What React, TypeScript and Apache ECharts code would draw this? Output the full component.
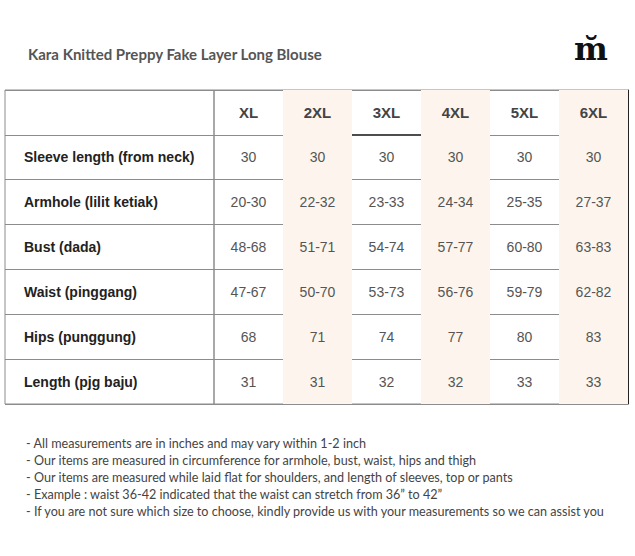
import React, { useEffect, useRef } from "react";
import * as echarts from "echarts";

const title = "Kara Knitted Preppy Fake Layer Long Blouse";
const sizes = ["XL", "2XL", "3XL", "4XL", "5XL", "6XL"];
const measurements = [
  "Sleeve length (from neck)",
  "Armhole (lilit ketiak)",
  "Bust (dada)",
  "Waist (pinggang)",
  "Hips (punggung)",
  "Length (pjg baju)",
];
const sleeve = ["30", "30", "30", "30", "30", "30"];
const armhole = ["20-30", "22-32", "23-33", "24-34", "25-35", "27-37"];
const bust = ["48-68", "51-71", "54-74", "57-77", "60-80", "63-83"];
const waist = ["47-67", "50-70", "53-73", "56-76", "59-79", "62-82"];
const hips = ["68", "71", "74", "77", "80", "83"];
const length = ["31", "31", "32", "32", "33", "33"];
const notes = [
  "- All measurements are in inches and may vary within 1-2 inch",
  "- Our items are measured in circumference for armhole, bust, waist, hips and thigh",
  "- Our items are measured while laid flat for shoulders, and length of sleeves, top or pants",
  "- Example : waist 36-42 indicated that the waist can stretch from 36\u201d to 42\u201d",
  "- If you are not sure which size to choose, kindly provide us with your measurements so we can assist you",
];

const rows = ["", ...measurements];
const valueRows = [sleeve, armhole, bust, waist, hips, length];

export default function App() {
  const ref = useRef<HTMLDivElement>(null);
  useEffect(() => {
    document.body.style.margin = "0";
    const chart = echarts.init(ref.current!, null, { renderer: "svg" });

    const cells: { c: number; r: number; t: string; header: boolean }[] = [];
    sizes.forEach((s, c) => cells.push({ c, r: 0, t: s, header: true }));
    valueRows.forEach((vals, ri) =>
      vals.forEach((v, c) => cells.push({ c, r: ri + 1, t: v, header: false }))
    );
    const labelCells = measurements.map((m, i) => ({ r: i + 1, t: m }));

    const lineColor = "#8c8c8c";
    const font = "'Liberation Sans', Arial, sans-serif";

    chart.setOption({
      animation: false,
      backgroundColor: "#ffffff",
      title: {
        text: title,
        left: 23,
        top: 41,
        textStyle: {
          fontFamily: "Lato",
          fontWeight: "bold",
          fontSize: 15,
          color: "#555555",
        },
      },
      grid: [
        {
          left: 5,
          top: 90,
          width: 209,
          height: 314,
          show: true,
          borderColor: lineColor,
          borderWidth: 1,
          backgroundColor: "transparent",
        },
        {
          left: 214,
          top: 90,
          width: 414,
          height: 314,
          show: true,
          borderColor: lineColor,
          borderWidth: 1,
          backgroundColor: "transparent",
        },
      ],
      xAxis: [
        {
          gridIndex: 0,
          type: "category",
          data: ["label"],
          axisLine: { show: false },
          axisTick: { show: false },
          axisLabel: { show: false },
        },
        {
          gridIndex: 1,
          type: "category",
          data: sizes,
          axisLine: { show: false },
          axisTick: { show: false },
          axisLabel: { show: false },
          splitArea: {
            show: true,
            interval: 0,
            areaStyle: { color: ["rgba(255,255,255,0)", "#fdf5ed"] },
          },
        },
      ],
      yAxis: [
        {
          gridIndex: 0,
          type: "category",
          data: rows,
          inverse: true,
          axisLine: { show: false },
          axisTick: { show: false },
          axisLabel: { show: false },
          splitLine: { show: true, interval: 0, lineStyle: { color: lineColor, width: 1 } },
        },
        {
          gridIndex: 1,
          type: "category",
          data: rows,
          inverse: true,
          position: "right",
          axisLine: { show: true, lineStyle: { color: "#222222", width: 1 } },
          axisTick: { show: false },
          axisLabel: { show: false },
          splitLine: { show: true, interval: 0, lineStyle: { color: lineColor, width: 1 } },
        },
      ],
      series: [
        {
          type: "custom",
          xAxisIndex: 1,
          yAxisIndex: 1,
          z: 5,
          data: cells.map((d) => [d.c, d.r]),
          renderItem: (params: any, api: any) => {
            const d = cells[params.dataIndex];
            const p = api.coord([api.value(0), api.value(1)]);
            const sz = api.size([1, 1]);
            const children: any[] = [
              {
                type: "text",
                x: p[0],
                y: p[1],
                style: {
                  text: d.t,
                  align: "center",
                  verticalAlign: "middle",
                  fontFamily: font,
                  fontSize: d.header ? 15 : 14,
                  fontWeight: d.header ? "bold" : "normal",
                  fill: d.header ? "#444444" : "#555555",
                },
              },
            ];
            if (d.header && d.c === 2) {
              children.push({
                type: "line",
                shape: {
                  x1: p[0] - sz[0] / 2,
                  y1: p[1] + sz[1] / 2,
                  x2: p[0] + sz[0] / 2,
                  y2: p[1] + sz[1] / 2,
                },
                style: { stroke: "#111111", lineWidth: 1.2 },
              });
            }
            return { type: "group", children };
          },
        },
        {
          type: "custom",
          xAxisIndex: 0,
          yAxisIndex: 0,
          z: 5,
          data: labelCells.map((d) => [0, d.r]),
          renderItem: (params: any, api: any) => {
            const d = labelCells[params.dataIndex];
            const p = api.coord([api.value(0), api.value(1)]);
            const sz = api.size([1, 1]);
            return {
              type: "text",
              x: p[0] - sz[0] / 2 + 19,
              y: p[1],
              style: {
                text: d.t,
                align: "left",
                verticalAlign: "middle",
                fontFamily: font,
                fontSize: 14,
                fontWeight: "bold",
                fill: "#222222",
              },
            };
          },
        },
      ],
      graphic: [
        {
          type: "text",
          x: 574,
          y: 33,
          style: {
            text: "m\u0306",
            fontFamily: "'DejaVu Serif', serif",
            fontWeight: "bold",
            fontSize: 32,
            fill: "#111111",
          },
        },
        {
          type: "text",
          x: 26,
          y: 435,
          style: {
            text: notes.join("\n"),
            fontFamily: "Lato",
            fontSize: 12.6,
            lineHeight: 17,
            fill: "#444444",
          },
        },
      ],
    });
    return () => chart.dispose();
  }, []);
  return (
    <div
      ref={ref}
      style={{ position: "absolute", left: 0, top: 0, width: 635, height: 556 }}
    />
  );
}
